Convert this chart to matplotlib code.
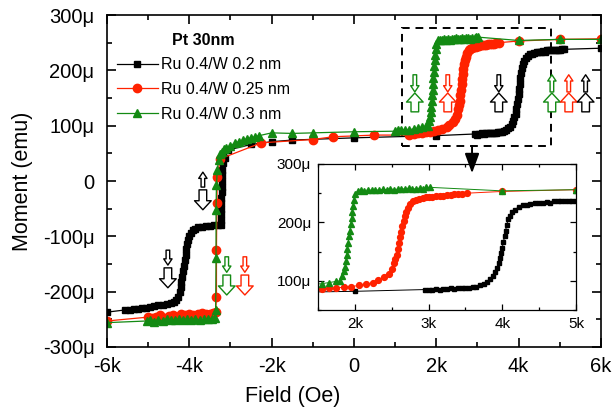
import numpy as np
import matplotlib.pyplot as plt
from matplotlib.ticker import MultipleLocator, FuncFormatter
from matplotlib.patches import Rectangle

plt.rcParams['font.family'] = ['Liberation Sans', 'DejaVu Sans']

# field in kOe, moment in micro-emu
black_field = [-6.0, -5.55, -5.45, -5.35, -5.25, -5.15, -5.05, -4.95, -4.85, -4.75, -4.65, -4.55,
               -4.45, -4.38, -4.32, -4.27, -4.23, -4.21, -4.19, -4.17, -4.15, -4.13, -4.11, -4.09,
               -4.07, -4.05, -4.03, -4.00, -3.96, -3.91, -3.85, -3.78, -3.70, -3.60, -3.50, -3.40,
               -3.30, -3.24, -3.23, -3.23, -3.22, -3.22, -3.22, -3.21, -3.21, -3.21, -3.20, -3.20,
               -3.19, -3.13, -3.06, -2.5, -2.0, -1.5, 0.0, 2.0,
               2.95, 3.0, 3.05, 3.1, 3.15, 3.2, 3.25, 3.3, 3.35, 3.4, 3.45, 3.5, 3.55, 3.6, 3.65,
               3.7, 3.75, 3.79, 3.83, 3.87, 3.90, 3.93,
               3.95, 3.97, 3.985, 4.00, 4.015, 4.03, 4.045, 4.06, 4.08, 4.10, 4.13, 4.17, 4.22,
               4.28, 4.33, 4.38, 4.45, 4.5, 4.55, 4.6, 4.65, 4.7, 4.75, 4.8, 4.85, 4.9, 4.95, 5.0,
               5.05, 5.1, 6.0]
black_moment = [-237, -233, -233, -232, -231, -230, -229, -227, -226, -225, -224, -222,
                -221, -219, -215, -209, -200, -192, -183, -173, -163, -153, -143, -133,
                -123, -114, -107, -100, -94, -89, -86, -84, -83, -82, -81, -80,
                -80, -79, -70, -60, -50, -40, -30, -20, -10, 0, 10, 20,
                33, 42, 56, 66, 71, 74, 78, 82,
                85, 84, 85, 86, 85, 86, 86, 87, 86, 87, 87, 88, 88, 89, 90,
                92, 95, 98, 103, 109, 115, 122,
                130, 139, 148, 157, 166, 176, 186, 196, 205, 211, 217, 222, 226,
                229, 230, 231, 233, 233, 234, 235, 234, 236, 236, 237, 236, 237, 237, 237,
                238, 238, 240]

red_field = [-6.0, -5.0, -4.9, -4.8, -4.7, -4.6, -4.5, -4.4, -4.3, -4.2, -4.1, -4.0, -3.9, -3.8,
             -3.7, -3.6, -3.5, -3.42, -3.36, -3.34, -3.34, -3.33, -3.32, -3.25, -2.25, -1.0, -0.5, 0.5,
             1.35, 1.45, 1.55, 1.65, 1.75, 1.85, 1.95, 2.05, 2.15, 2.25, 2.32, 2.40, 2.46, 2.50,
             2.53, 2.55, 2.57, 2.585, 2.60, 2.615, 2.63, 2.645, 2.66, 2.68, 2.70, 2.72, 2.75, 2.79,
             2.83, 2.87, 2.92, 2.96, 3.0, 3.05, 3.1, 3.15, 3.2, 3.25, 3.3, 3.35, 3.4, 3.45, 3.52,
             4.0, 5.0, 6.0]
red_moment = [-253, -246, -248, -245, -243, -247, -244, -243, -245, -241, -243, -240, -242, -241,
              -239, -241, -240, -238, -236, -209, -125, -40, 7, 40, 69, 75, 80, 83,
              83, 85, 86, 87, 88, 89, 90, 92, 94, 97, 101, 106, 112, 120,
              130, 138, 145, 155, 165, 175, 184, 193, 202, 211, 218, 225, 231, 237,
              239, 240, 242, 243, 244, 244, 245, 246, 246, 247, 247, 248, 248, 249, 250,
              253, 256, 257]

green_field = [-6.0, -5.03, -4.95, -4.85, -4.75, -4.65, -4.55, -4.45, -4.35, -4.25, -4.15, -4.05,
               -3.95, -3.85, -3.75, -3.65, -3.55, -3.45, -3.38, -3.36, -3.35, -3.35, -3.34, -3.32,
               -3.29, -3.25, -3.2, -3.15, -3.1, -3.0, -2.9, -2.8, -2.7, -2.6, -2.5, -2.4, -2.3,
               -2.0, -1.5, -1.0, 0.0, 1.0,
               1.07, 1.15, 1.25, 1.35, 1.45, 1.55, 1.65, 1.75, 1.80, 1.83, 1.85, 1.87, 1.88, 1.89,
               1.90, 1.91, 1.92, 1.93, 1.945, 1.955, 1.965, 1.975, 1.985, 2.00, 2.04, 2.08, 2.13,
               2.18, 2.23, 2.28, 2.33, 2.38, 2.43, 2.48, 2.53, 2.58, 2.63, 2.68, 2.73, 2.78, 2.83,
               2.88, 2.93, 2.97, 3.02, 4.0, 5.0, 6.0]
green_moment = [-256, -253, -252, -254, -251, -253, -250, -252, -251, -250, -252, -250,
                -251, -249, -251, -250, -249, -250, -248, -233, -139, -52, -7, 20,
                38, 48, 53, 57, 60, 64, 68, 71, 74, 76, 78, 80, 82,
                87, 86, 87, 89, 90,
                92, 92, 93, 93, 94, 95, 97, 99, 100, 108, 116, 124, 134, 145,
                155, 165, 176, 186, 197, 207, 218, 228, 238, 248, 254, 255, 254,
                256, 255, 256, 255, 257, 256, 258, 256, 257, 258, 257, 259, 258, 257,
                259, 258, 260, 260, 254, 256, 256]

labels = ['Ru 0.4/W 0.2 nm', 'Ru 0.4/W 0.25 nm', 'Ru 0.4/W 0.3 nm']
colours = ['#000000', '#ff2200', '#138a13']
markers = ['s', 'o', '^']
sizes = [5.0, 6.0, 6.0]

series = [(black_field, black_moment), (red_field, red_moment), (green_field, green_moment)]


def kfmt(v, pos):
    return '0' if abs(v) < 1e-9 else f'{v:g}k'


def ufmt(v, pos):
    return '0' if abs(v) < 1e-9 else f'{v:g}\u03bc'


def box_axes(ax, lw, major, minor, size, padx, pady):
    for s in ax.spines.values():
        s.set_linewidth(lw)
    ax.tick_params(which='both', direction='in', top=True, right=True, width=lw, labelsize=size)
    ax.tick_params(axis='x', pad=padx)
    ax.tick_params(axis='y', pad=pady)
    ax.tick_params(which='major', length=major)
    ax.tick_params(which='minor', length=minor)


def hollow_arrow(ax, x, y0, y1, colour, big):
    if big:
        style = 'simple,head_length=0.65,head_width=1.2,tail_width=0.55'
    else:
        style = 'simple,head_length=0.45,head_width=0.6,tail_width=0.26'
    ax.annotate('', xy=(x, y1), xytext=(x, y0),
                arrowprops=dict(arrowstyle=style, mutation_scale=10, fc='white', ec=colour,
                                lw=1.0, shrinkA=0, shrinkB=0))


fig = plt.figure(figsize=(6.12, 4.16), dpi=100)
ax = fig.add_axes([0.1748, 0.1659, 0.807, 0.798])

for (f, m), lab, c, mk, ms in zip(series, labels, colours, markers, sizes):
    ax.plot(f, m, color=c, lw=0.9, marker=mk, ms=ms, mec=c, mfc=c, label=lab)

ax.set_xlim(-6, 6)
ax.set_ylim(-300, 300)
ax.xaxis.set_major_locator(MultipleLocator(2))
ax.xaxis.set_minor_locator(MultipleLocator(1))
ax.yaxis.set_major_locator(MultipleLocator(100))
ax.yaxis.set_minor_locator(MultipleLocator(50))
ax.xaxis.set_major_formatter(FuncFormatter(kfmt))
ax.yaxis.set_major_formatter(FuncFormatter(ufmt))
box_axes(ax, 1.2, 6.5, 3.5, 14.5, 7, 9)
ax.set_xlabel('Field (Oe)', fontsize=15.5)
ax.xaxis.set_label_coords(0.377, -0.117)
ax.set_ylabel('Moment (emu)', fontsize=15.5)
ax.yaxis.set_label_coords(-0.15, 0.5)

leg = ax.legend(loc='upper left', bbox_to_anchor=(0.0, 0.975), frameon=False, fontsize=11.5,
                title='Pt 30nm', title_fontproperties={'weight': 'bold', 'size': 11.5},
                handlelength=2.6, handletextpad=0.2, labelspacing=0.6, borderaxespad=0.2)

# dashed zoom box
ax.add_patch(Rectangle((1.17, 63), 3.61, 214, fill=False, ec='black', lw=1.4, ls=(0, (4, 3))))

# spin arrows (small = top layer, big = bottom layer)
hollow_arrow(ax, -4.52, -125, -152, 'black', False)
hollow_arrow(ax, -4.52, -157, -193, 'black', True)
hollow_arrow(ax, -3.67, -11, 16, 'black', False)
hollow_arrow(ax, -3.67, -16, -52, 'black', True)
for x, c in [(-3.09, colours[2]), (-2.65, colours[1])]:
    hollow_arrow(ax, x, -137, -165, c, False)
    hollow_arrow(ax, x, -170, -206, c, True)
for x, c in [(1.48, colours[2]), (2.28, colours[1]), (3.52, 'black')]:
    hollow_arrow(ax, x, 192, 161, c, False)
    hollow_arrow(ax, x, 125, 159, c, True)
for x, c in [(4.81, colours[2]), (5.22, colours[1]), (5.63, 'black')]:
    hollow_arrow(ax, x, 161, 192, c, False)
    hollow_arrow(ax, x, 125, 159, c, True)

# inset
ins = fig.add_axes([0.5196, 0.2548, 0.4216, 0.351])
for (f, m), c, mk, ms in zip(series, colours, markers, sizes):
    ins.plot(f, m, color=c, lw=0.7, marker=mk, ms=ms * 0.7, mec=c, mfc=c)
ins.set_xlim(1.5, 5)
ins.set_ylim(50, 300)
ins.xaxis.set_major_locator(MultipleLocator(1))
ins.xaxis.set_minor_locator(MultipleLocator(0.5))
ins.yaxis.set_major_locator(MultipleLocator(100))
ins.yaxis.set_minor_locator(MultipleLocator(50))
ins.xaxis.set_major_formatter(FuncFormatter(kfmt))
ins.yaxis.set_major_formatter(FuncFormatter(ufmt))
box_axes(ins, 0.9, 4.5, 2.5, 11, 5, 5)

ins.annotate('', xy=(2.87, 14), xycoords=ax.transData, xytext=(2.87, 63), textcoords=ax.transData,
             arrowprops=dict(arrowstyle='-|>,head_length=0.6,head_width=0.22', mutation_scale=20,
                             fc='black', ec='black', lw=1.4, shrinkA=0, shrinkB=0),
             annotation_clip=False)

fig.savefig('out.png', dpi=100)
